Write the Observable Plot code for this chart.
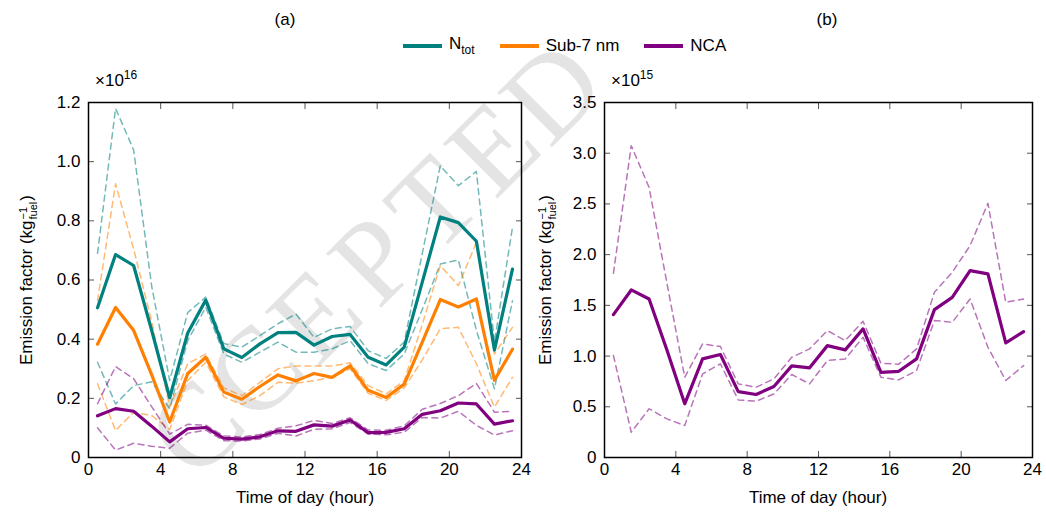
<!DOCTYPE html>
<html>
<head>
<meta charset="utf-8">
<script src="https://cdn.jsdelivr.net/npm/d3@7"></script>
<script src="https://cdn.jsdelivr.net/npm/@observablehq/plot@0.6"></script>
<style>
  body { margin: 0; background: #fff; font-family: "Liberation Sans", Arial, sans-serif; }
  #wrap { position: relative; width: 1046px; height: 517px; overflow: hidden; background: #fff; color: #000; }
  .abs { position: absolute; pointer-events: none; }
  .abs svg { pointer-events: none; }
  .wm { position: absolute; transform: translate(-50%, -50%) rotate(-45deg);
        font-family: "Liberation Serif", "DejaVu Serif", serif; font-size: 118px; line-height: 0.9; color: #e4e4e4; white-space: nowrap; }
  .title { position: absolute; font-size: 17px; transform: translateX(-50%); top: 10px; }
  .mult { position: absolute; font-size: 17px; top: 68px; }
  .mult sup { font-size: 12px; vertical-align: 7px; }
  .xlab { position: absolute; font-size: 17px; transform: translateX(-50%); top: 488px; white-space: nowrap; }
  .ylab { position: absolute; font-size: 17px; transform: translate(-50%, -50%) rotate(-90deg); white-space: nowrap; }
  .stack { display: inline-flex; flex-direction: column; vertical-align: middle; font-size: 11px; line-height: 10px; margin: 0 1px; text-align: left; }
  #legend { position: absolute; top: 34px; left: 403px; display: flex; align-items: center; font-size: 17px; white-space: nowrap; }
  .sw { display: inline-block; width: 39px; height: 4px; margin-right: 7px; }
  .item { display: flex; align-items: center; margin-right: 25px; }
  .item sub { font-size: 12px; vertical-align: -5px; }
</style>
</head>
<body>
<div id="wrap">
  <div class="wm" style="left:196px;top:428px">C</div>
  <div class="wm" style="left:255px;top:372px">C</div>
  <div class="wm" style="left:315px;top:316px">E</div>
  <div class="wm" style="left:374px;top:260px">P</div>
  <div class="wm" style="left:433px;top:204px">T</div>
  <div class="wm" style="left:493px;top:148px">E</div>
  <div class="wm" style="left:552px;top:92px">D</div>
  <div id="plotA" class="abs" style="left:0;top:0;width:540px;height:517px"></div>
  <div id="plotB" class="abs" style="left:540px;top:0;width:506px;height:517px"></div>
  <div class="title" style="left:285px">(a)</div>
  <div class="title" style="left:827px">(b)</div>
  <div id="legend"></div>
  <div class="mult" style="left:95px">×10<sup>16</sup></div>
  <div class="mult" style="left:611px">×10<sup>15</sup></div>
  <div class="xlab" style="left:305px">Time of day (hour)</div>
  <div class="xlab" style="left:818px">Time of day (hour)</div>
  <div class="ylab" style="left:27px;top:280px">Emission factor (kg<span class="stack"><span>−1</span><span>fuel</span></span>)</div>
  <div class="ylab" style="left:546px;top:280px">Emission factor (kg<span class="stack"><span>−1</span><span>fuel</span></span>)</div>
</div>
<script>
// ---- data ----
const hours = [0.5,1.5,2.5,3.5,4.5,5.5,6.5,7.5,8.5,9.5,10.5,11.5,12.5,13.5,14.5,15.5,16.5,17.5,18.5,19.5,20.5,21.5,22.5,23.5];

// panel (a), units of 1e16 per kg fuel
const ntotMean  = [0.506,0.686,0.649,0.43,0.202,0.421,0.532,0.367,0.338,0.384,0.422,0.423,0.38,0.409,0.416,0.339,0.313,0.373,0.593,0.813,0.794,0.731,0.363,0.637];
const ntotUpper = [0.69,1.18,1.04,0.58,0.26,0.49,0.542,0.385,0.373,0.412,0.452,0.485,0.406,0.435,0.443,0.361,0.335,0.39,0.69,0.986,0.919,0.967,0.39,0.778];
const ntotLower = [0.322,0.181,0.243,0.256,0.165,0.395,0.508,0.35,0.322,0.356,0.39,0.356,0.356,0.367,0.395,0.317,0.294,0.35,0.5,0.654,0.668,0.43,0.232,0.53];

const sub7Mean  = [0.383,0.507,0.43,0.28,0.12,0.284,0.339,0.221,0.197,0.24,0.279,0.259,0.284,0.271,0.31,0.227,0.203,0.248,0.39,0.534,0.509,0.536,0.261,0.366];
const sub7Upper = [0.53,0.925,0.705,0.46,0.17,0.317,0.35,0.235,0.209,0.254,0.3,0.309,0.309,0.309,0.32,0.243,0.215,0.26,0.45,0.649,0.581,0.727,0.35,0.44];
const sub7Lower = [0.249,0.091,0.153,0.142,0.095,0.26,0.322,0.205,0.179,0.209,0.254,0.251,0.26,0.271,0.3,0.217,0.193,0.235,0.33,0.435,0.44,0.317,0.17,0.271];

// NCA, units of 1e15 per kg fuel (panel b)
const ncaMean  = [1.409,1.652,1.563,1.06,0.529,0.972,1.015,0.65,0.621,0.70,0.903,0.884,1.103,1.061,1.268,0.84,0.85,0.972,1.458,1.579,1.842,1.81,1.13,1.241];
const ncaUpper = [1.816,3.074,2.663,1.72,0.791,1.12,1.094,0.726,0.693,0.775,0.988,1.071,1.251,1.153,1.343,0.929,0.92,1.071,1.629,1.826,2.089,2.506,1.53,1.563];
const ncaLower = [1.005,0.249,0.48,0.381,0.315,0.824,0.923,0.568,0.555,0.627,0.818,0.726,0.956,0.972,1.185,0.791,0.765,0.857,1.35,1.333,1.563,1.087,0.759,0.906];

// ticks
const xTicks  = [0,4,8,12,16,20,24];
const yTicksA = [0,0.2,0.4,0.6,0.8,1.0,1.2];
const yTicksB = [0,0.5,1.0,1.5,2.0,2.5,3.0,3.5];

const seriesNames = ["Ntot","Sub-7 nm","NCA"];
const colors = {"Ntot": "#00807f", "Sub-7 nm": "#ff8000", "NCA": "#800080"};

// ---- helpers ----
const toA = v => v / 10; // 1e15 -> 1e16 units
const fmt = d => d === 0 ? "0" : d.toFixed(1);
const font = "Liberation Sans, Arial, sans-serif";

function dashed(arr, c) {
  return Plot.line(arr, {x: hours, y: arr, stroke: c, strokeOpacity: 0.55, strokeWidth: 1.5, strokeDasharray: "6,4.5"});
}
function solid(arr, c) {
  return Plot.line(arr, {x: hours, y: arr, stroke: c, strokeWidth: 3.2});
}
function axes(yTicks) {
  return [
    Plot.axisX({anchor: "bottom", ticks: xTicks, tickSize: -6, tickPadding: 11, fontSize: 17, label: null, stroke: "#555", tickFormat: d => String(d)}),
    Plot.axisX({anchor: "top", ticks: xTicks, tickSize: -6, label: null, stroke: "#555", tickFormat: () => ""}),
    Plot.axisY({anchor: "left", ticks: yTicks, tickSize: -6, tickPadding: 14, fontSize: 17, label: null, stroke: "#555", tickFormat: fmt}),
    Plot.axisY({anchor: "right", ticks: yTicks, tickSize: -6, label: null, stroke: "#555", tickFormat: () => ""}),
    Plot.frame({stroke: "#000", strokeWidth: 1.5})
  ];
}

const plotA = Plot.plot({
  width: 540, height: 517,
  marginLeft: 88, marginRight: 19, marginTop: 102, marginBottom: 60,
  style: {background: "transparent", fontFamily: font, fontSize: "17px", maxWidth: "none", overflow: "visible"},
  x: {domain: [0, 24]},
  y: {domain: [0, 1.2]},
  marks: [
    dashed(ntotUpper, colors["Ntot"]), dashed(ntotLower, colors["Ntot"]),
    dashed(sub7Upper, colors["Sub-7 nm"]), dashed(sub7Lower, colors["Sub-7 nm"]),
    dashed(ncaUpper.map(toA), colors["NCA"]), dashed(ncaLower.map(toA), colors["NCA"]),
    solid(ntotMean, colors["Ntot"]),
    solid(sub7Mean, colors["Sub-7 nm"]),
    solid(ncaMean.map(toA), colors["NCA"]),
    ...axes(yTicksA)
  ]
});
document.getElementById("plotA").append(plotA);

const plotB = Plot.plot({
  width: 506, height: 517,
  marginLeft: 64, marginRight: 14, marginTop: 102, marginBottom: 60,
  style: {background: "transparent", fontFamily: font, fontSize: "17px", maxWidth: "none", overflow: "visible"},
  x: {domain: [0, 24]},
  y: {domain: [0, 3.5]},
  marks: [
    dashed(ncaUpper, colors["NCA"]), dashed(ncaLower, colors["NCA"]),
    solid(ncaMean, colors["NCA"]),
    ...axes(yTicksB)
  ]
});
document.getElementById("plotB").append(plotB);

// legend
const legend = document.getElementById("legend");
seriesNames.forEach(name => {
  const item = document.createElement("div");
  item.className = "item";
  const sw = document.createElement("span");
  sw.className = "sw";
  sw.style.background = colors[name];
  const label = document.createElement("span");
  if (name === "Ntot") label.innerHTML = "N<sub>tot</sub>";
  else label.textContent = name;
  item.append(sw, label);
  legend.append(item);
});
</script>
</body>
</html>
